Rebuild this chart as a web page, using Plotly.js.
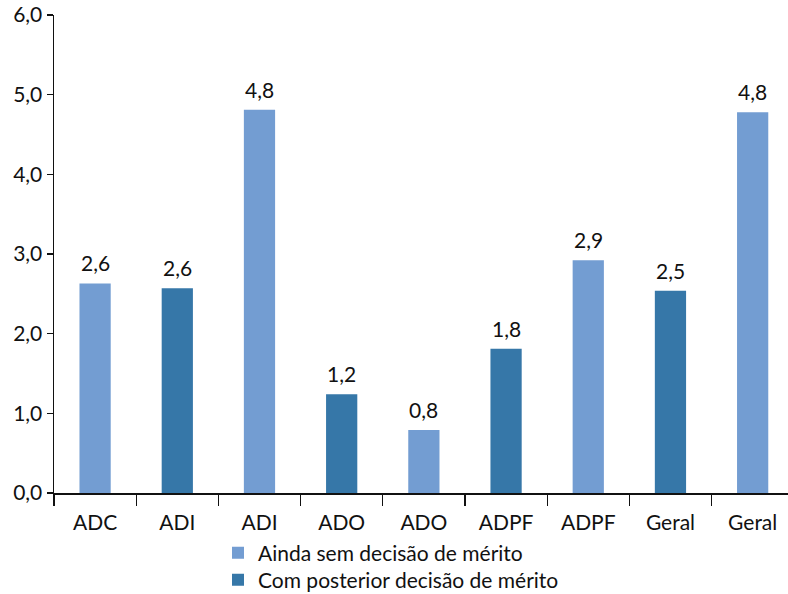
<!DOCTYPE html>
<html>
<head>
<meta charset="utf-8">
<script src="https://cdn.plot.ly/plotly-3.0.1.min.js"></script>
<style>html,body{margin:0;padding:0;background:#fff;}#chart{width:788px;height:594px;}</style>
</head>
<body>
<div id="chart"></div>
<script>
const categories = ["ADC", "ADI", "ADI", "ADO", "ADO", "ADPF", "ADPF", "Geral", "Geral"];
const values = [2.63, 2.57, 4.81, 1.24, 0.79, 1.81, 2.92, 2.54, 4.78];
const seriesOf = [0, 1, 0, 1, 0, 1, 0, 1, 0];
const seriesNames = ["Ainda sem decisão de mérito", "Com posterior decisão de mérito"];
const seriesColors = ["#739dd2", "#3677a8"];
const yTicks = [0, 1, 2, 3, 4, 5, 6];

const fmt = v => v.toFixed(1).replace('.', ',');
const FONT = "Lato, 'Noto Sans', sans-serif";
const FS = 21;
const legendIds = ['legend', 'legend2'];
const legendRowsY = [553, 580];

const traces = seriesNames.map((name, s) => {
  const xs = [], ys = [];
  values.forEach((v, i) => { if (seriesOf[i] === s) { xs.push(i); ys.push(v); } });
  return {
    type: 'bar', name: name, x: xs, y: ys, width: 0.38, legend: legendIds[s],
    marker: {color: seriesColors[s]}, hoverinfo: 'none'
  };
});

const annotations = values.map((v, i) => ({
  x: i, y: v, xref: 'x', yref: 'y', text: fmt(v), showarrow: false,
  yanchor: 'bottom', yshift: 6, font: {family: FONT, size: FS, color: '#111'}
}));

const boundaries = [];
for (let i = 0; i <= categories.length; i++) boundaries.push(i - 0.5);

const legendStyle = (py) => ({
  xref: 'container', yref: 'container',
  x: 218 / 788, xanchor: 'left', y: 1 - py / 594, yanchor: 'middle',
  orientation: 'v', font: {family: FONT, size: FS, color: '#111'},
  itemwidth: 30, bgcolor: 'rgba(0,0,0,0)', borderwidth: 0
});

const layout = {
  width: 788, height: 594,
  margin: {l: 54, r: 0, t: 15, b: 101, pad: 0, autoexpand: false},
  paper_bgcolor: '#fff', plot_bgcolor: '#fff',
  barmode: 'overlay',
  showlegend: true,
  legend: legendStyle(legendRowsY[0]),
  legend2: legendStyle(legendRowsY[1]),
  xaxis: {
    range: [-0.5, 8.43], tickmode: 'array', tickvals: categories.map((c, i) => i),
    ticktext: categories, ticks: '', showgrid: false, zeroline: false,
    showline: true, linecolor: '#111', linewidth: 1.5, ticklabelstandoff: 10,
    tickfont: {family: FONT, size: FS, color: '#111'},
    minor: {tickmode: 'array', tickvals: boundaries, ticks: 'outside', ticklen: 11, tickcolor: '#111', tickwidth: 1.2, showgrid: false},
    fixedrange: true
  },
  yaxis: {
    range: [0, 6], tickmode: 'array', tickvals: yTicks, ticktext: yTicks.map(fmt),
    ticks: 'outside', ticklen: 6, tickcolor: '#111', tickwidth: 1.2,
    showgrid: false, zeroline: false, showline: true, linecolor: '#111', linewidth: 1.5,
    tickfont: {family: FONT, size: FS, color: '#111'}, fixedrange: true
  },
  annotations: annotations
};

Plotly.newPlot('chart', traces, layout, {displayModeBar: false, staticPlot: true});
</script>
</body>
</html>
